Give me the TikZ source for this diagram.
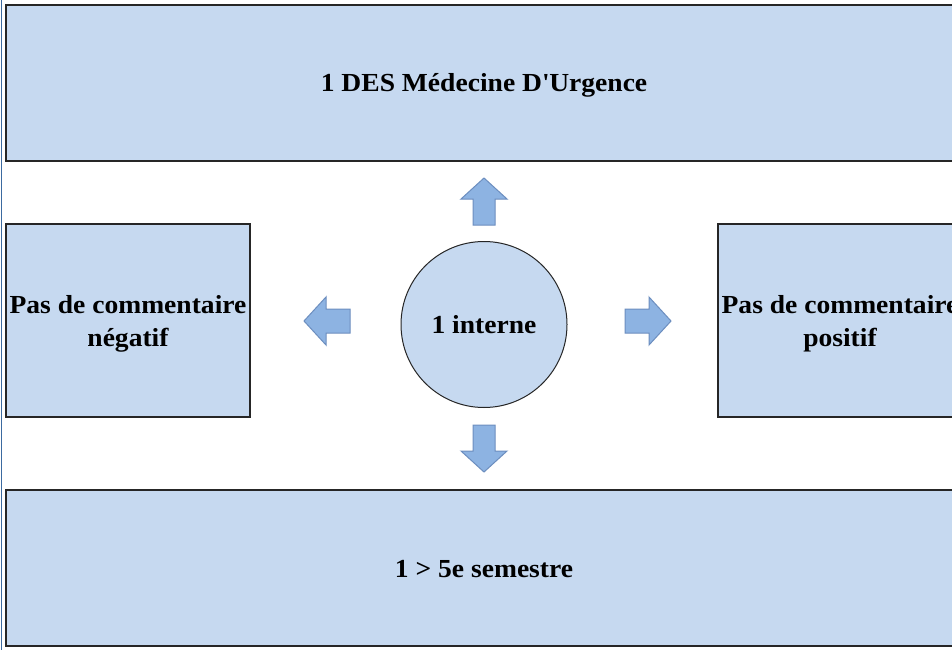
\documentclass[tikz,border=0pt]{standalone}
\usepackage{fontspec}
\setmainfont{Liberation Serif}[FakeStretch=1.06]
\begin{document}
\begin{tikzpicture}[x=1pt,y=-1pt,
  box/.style={draw=black!85, line width=1.3pt, fill=boxfill, inner sep=0pt, align=center,
    font=\fontsize{26}{33}\selectfont\bfseries},
  blockarrow/.style={draw=arrowline, line width=1pt, fill=arrowfill, line join=miter}]
\definecolor{boxfill}{HTML}{C6D9F0}
\definecolor{arrowfill}{HTML}{8DB3E2}
\definecolor{arrowline}{HTML}{6C8EBF}
\definecolor{edgeblue}{HTML}{3B6AA0}
\useasboundingbox (0,0) rectangle (952,650);
\clip (0,0) rectangle (952,650);
\fill[white] (0,0) rectangle (952,650);
\node[box, minimum width=956, minimum height=156] (des) at (484,83) {\rule{0pt}{22pt}1 DES Médecine D\textquotesingle Urgence};
\node[box, minimum width=956, minimum height=156] (sem) at (484,568) {\rule{0pt}{20pt}1 > 5e semestre};
\node[box, minimum width=244, minimum height=193] (neg) at (128,320.5) {\rule{0pt}{24pt}Pas de commentaire\\négatif};
\node[box, minimum width=244, minimum height=193] (pos) at (840,320.5) {\rule{0pt}{24pt}Pas de commentaire\\positif};
\node[box, circle, line width=1pt, minimum size=166] (int) at (484,324.5) {1 interne};
% block arrows
\path[blockarrow] (484,178) -- (507,199) -- (495,199) -- (495,225) -- (473,225) -- (473,199) -- (461,199) -- cycle;
\path[blockarrow] (484,472) -- (507,451) -- (495,451) -- (495,425) -- (473,425) -- (473,451) -- (461,451) -- cycle;
\path[blockarrow] (304,321) -- (326,297) -- (326,309) -- (350,309) -- (350,333) -- (326,333) -- (326,345) -- cycle;
\path[blockarrow] (671,321) -- (649,297) -- (649,309) -- (625,309) -- (625,333) -- (649,333) -- (649,345) -- cycle;
\draw[edgeblue, line width=1.5pt] (1.5,0) -- (1.5,650);
\end{tikzpicture}
\end{document}
